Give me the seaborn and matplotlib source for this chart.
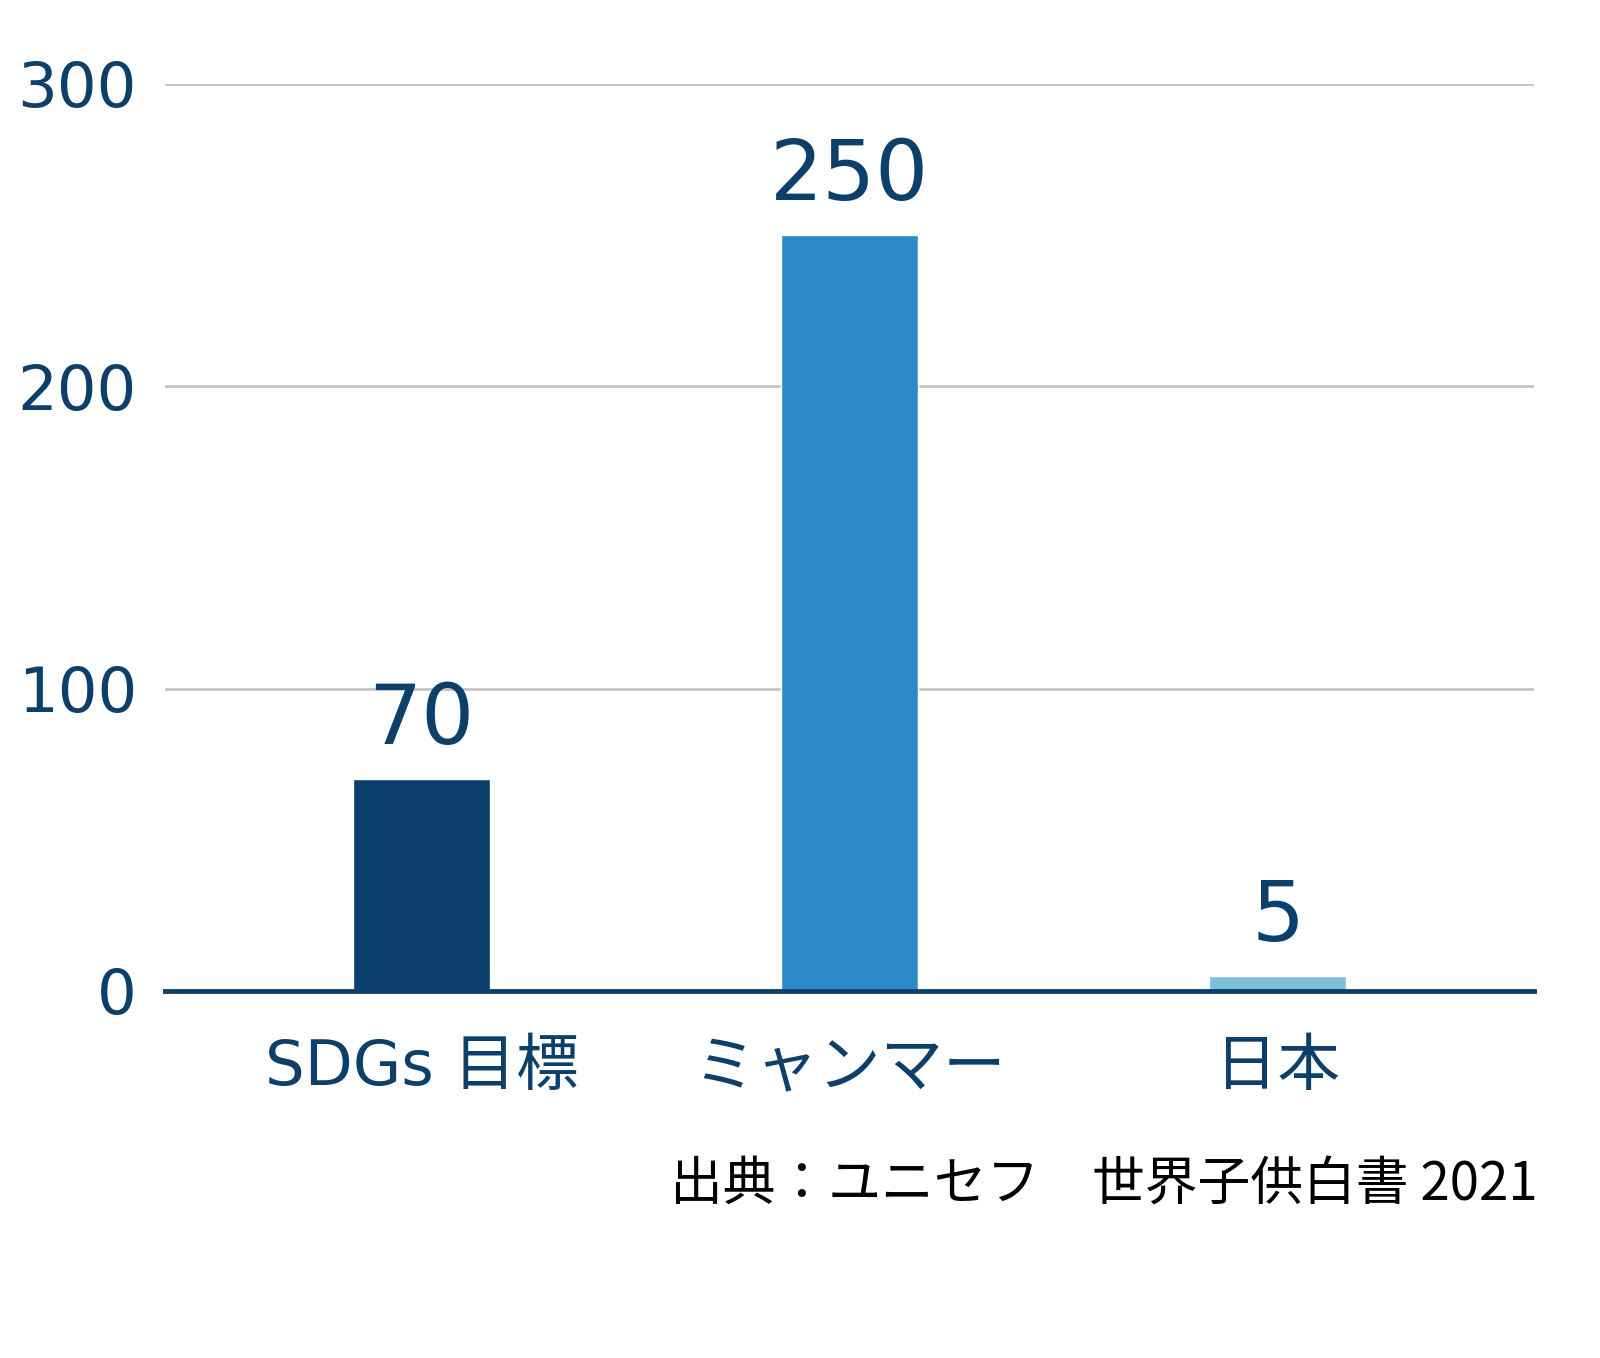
import matplotlib
matplotlib.use("Agg")
import matplotlib.pyplot as plt
import seaborn as sns
import pandas as pd

categories = ["SDGs 目標", "ミャンマー", "日本"]
values = [70, 250, 5]
colors = ["#0c3f6d", "#2e89c8", "#7dc0de"]
yticks = [0, 100, 200, 300]
source = "出典：ユニセフ　世界子供白書 2021"

sns.set_theme(style="white")
plt.rcParams["font.family"] = ["DejaVu Sans", "Noto Sans CJK JP"]

navy = "#0d3f6b"
df = pd.DataFrame({"cat": categories, "val": values})

fig = plt.figure(figsize=(16, 13.58), dpi=100)
ax = fig.add_axes([0.103, 0.2703, 0.856, 0.6679])
sns.barplot(data=df, x="cat", y="val", hue="cat", palette=colors,
            legend=False, width=0.32, saturation=1, ax=ax, zorder=3)

ax.set_xlim(-0.6, 2.6)
ax.set_ylim(0, 300)
ax.set_yticks(yticks)
ax.set_yticklabels([str(t) for t in yticks])
ax.yaxis.grid(True, color="#c4c4c4", linewidth=2, zorder=0)
ax.set_axisbelow(True)
for s in ["top", "right", "left"]:
    ax.spines[s].set_visible(False)
ax.spines["bottom"].set_color(navy)
ax.spines["bottom"].set_linewidth(3.5)
ax.spines["bottom"].set_zorder(5)
ax.set_xlabel("")
ax.set_ylabel("")
ax.tick_params(axis="y", length=0, pad=20, labelsize=45, labelcolor=navy)
ax.tick_params(axis="x", length=0, pad=34, labelsize=45, labelcolor=navy)

for i, v in enumerate(values):
    ax.text(i, v + 6, str(v), ha="center", va="bottom", fontsize=60, color=navy)

fig.text(0.961, 0.127, source, ha="right", va="center", fontsize=38,
         color="black", family=["Noto Sans CJK JP", "DejaVu Sans"])

fig.savefig("out.png", dpi=100, facecolor="white")
